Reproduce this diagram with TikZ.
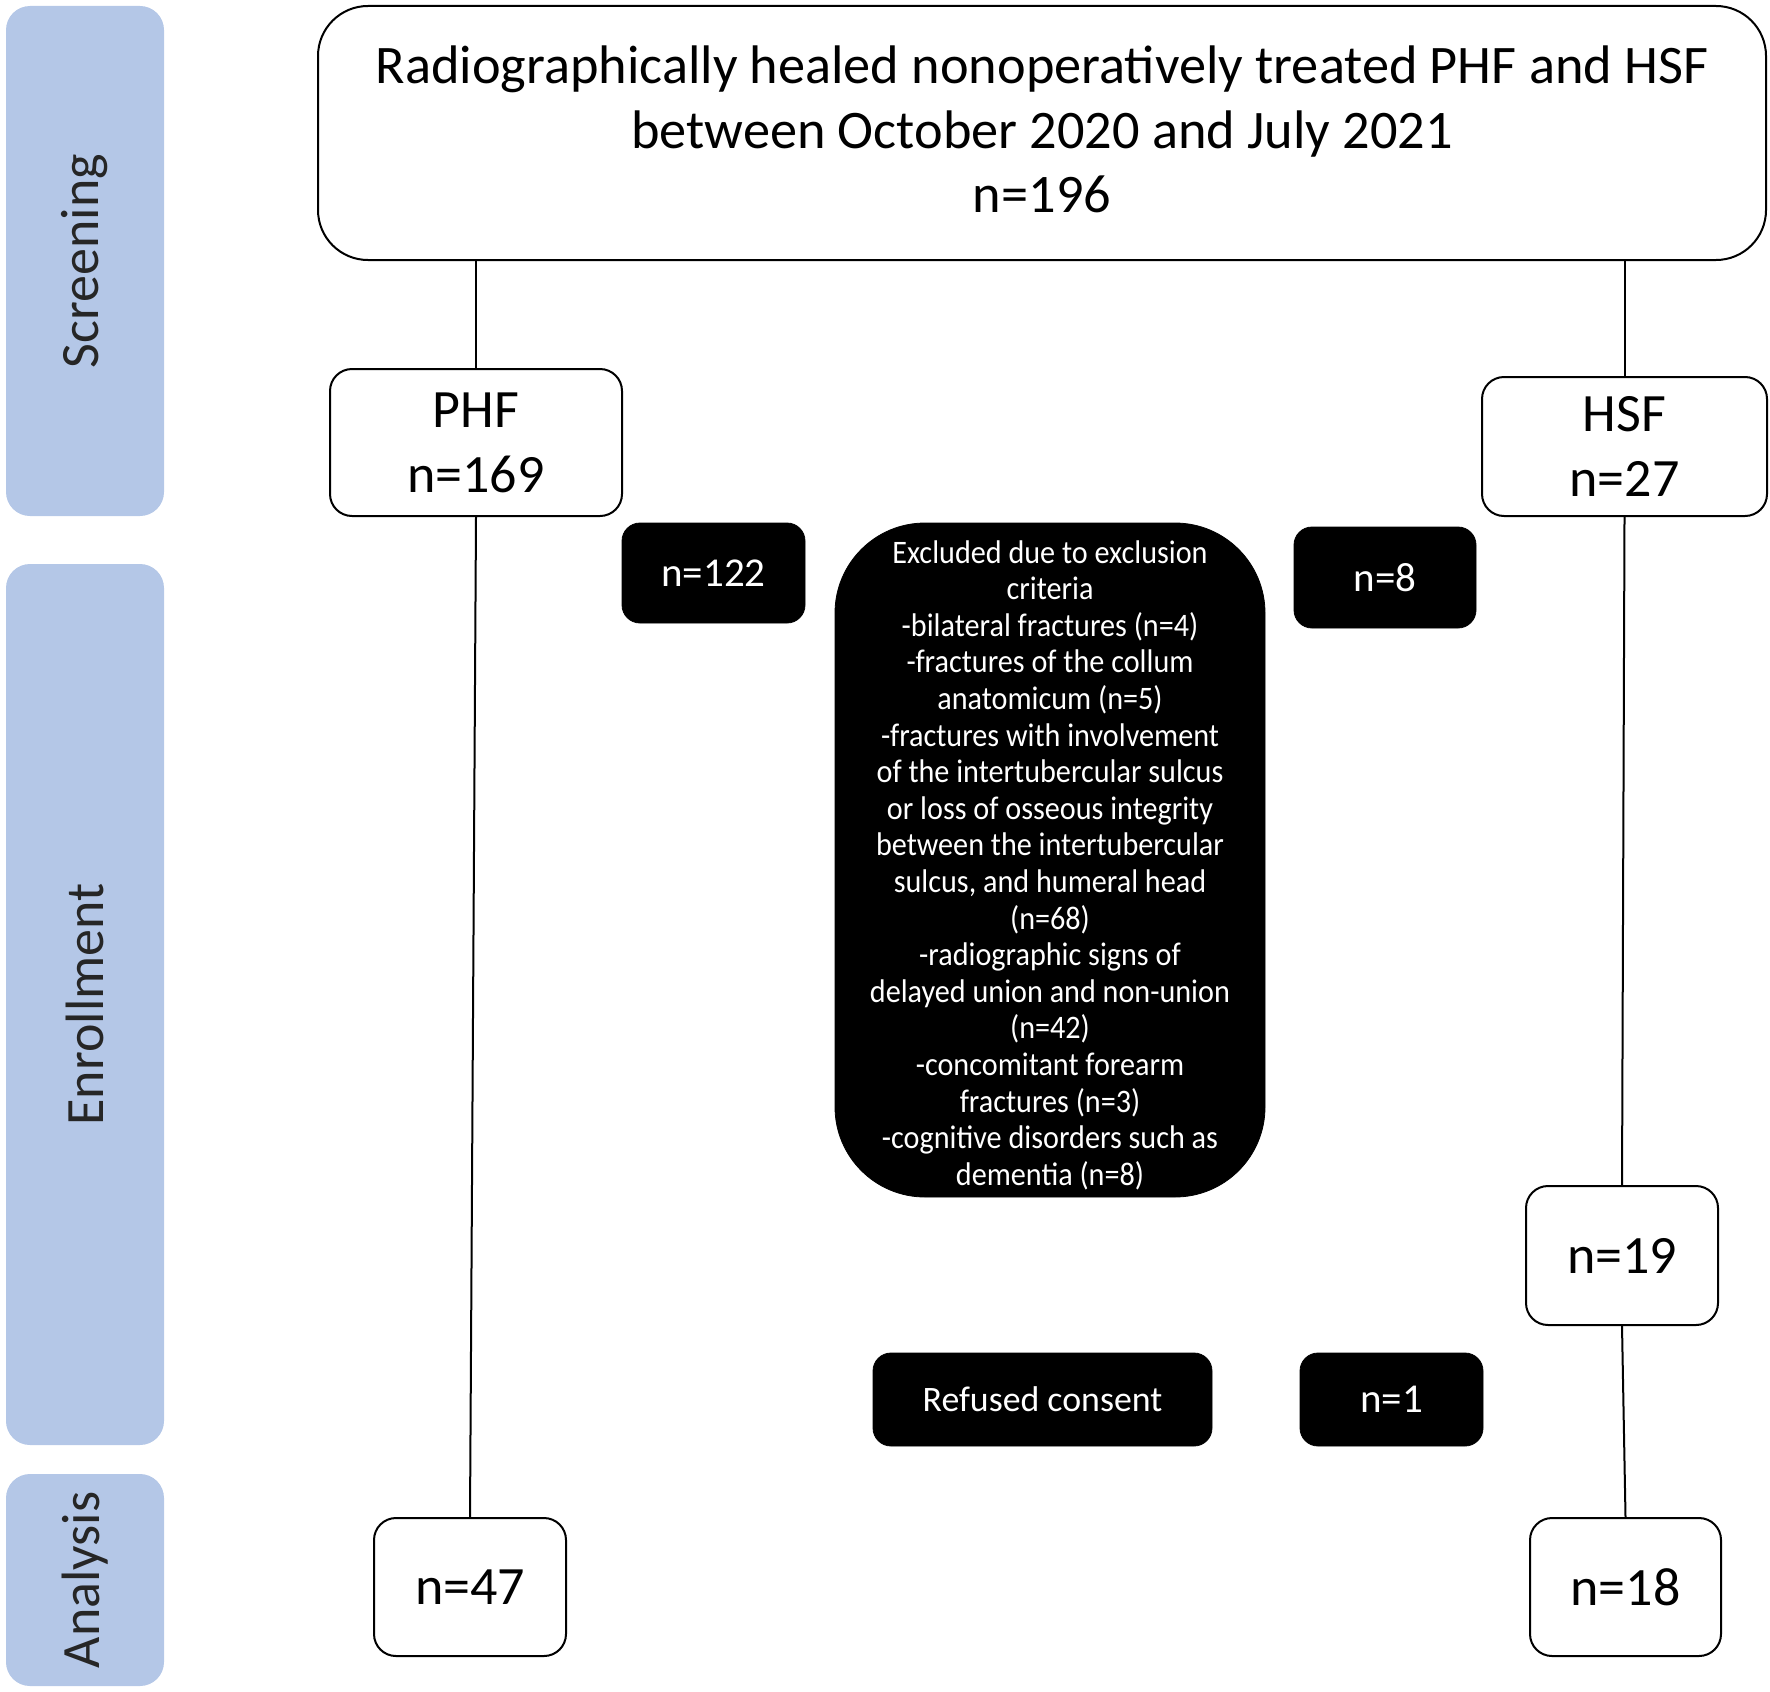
\documentclass[tikz,border=0pt]{standalone}
\usepackage{fontspec}
\setmainfont{Carlito}
\newfontfamily\condfont[FakeStretch=0.92]{Carlito}
\definecolor{barblue}{HTML}{B4C7E7}
\begin{document}
\begin{tikzpicture}[x=0.5pt,y=-0.5pt,
  wbox/.style={draw=black,line width=1pt,fill=white,rounded corners=11pt,align=center,inner sep=0pt,font=\fontsize{27}{32.5}\selectfont},
  kbox/.style={draw=black,fill=black,text=white,rounded corners=9pt,align=center,inner sep=0pt,font=\fontsize{20.5}{24}\selectfont},
  bar/.style={fill=barblue,rounded corners=12pt,inner sep=0pt,minimum width=79pt},
  barlabel/.style={rotate=90,text=black!85,font=\fontsize{27}{32}\selectfont},
  conn/.style={line width=1pt}]
\useasboundingbox (0,0) rectangle (1770,1691);
% phase bars
\node[bar,minimum height=255pt] (bs) at (85,261) {};
\node[bar,minimum height=440.5pt] (be) at (85,1004.5) {};
\node[bar,minimum height=106pt] (ba) at (85,1580) {};
\node[barlabel] (ls) at (bs.center) {Screening};
\node[barlabel] (le) at (be.center) {Enrollment};
\node[barlabel] (la) at (ba.center) {Analysis};
% white boxes
\node[wbox,rounded corners=25pt,minimum width=724pt,minimum height=127pt,font=\fontsize{27.15}{32.2}\selectfont] (top) at (1042,133)
  {\raisebox{-1.1pt}[\height][\depth]{\begin{tabular}{@{}c@{}}Radiographically healed nonoperatively treated PHF and HSF\\between October 2020 and July 2021\\n=196\end{tabular}}};
\node[wbox,minimum width=146pt,minimum height=73.5pt] (phf) at (476,442.5) {PHF\\n=169};
\node[wbox,minimum width=142.5pt,minimum height=69.5pt] (hsf) at (1624.5,446.5) {HSF\\n=27};
\node[wbox,minimum width=96pt,minimum height=69.5pt] (n19) at (1622,1255.5) {n=19};
\node[wbox,minimum width=96pt,minimum height=69pt] (n47) at (470,1587) {n=47};
\node[wbox,minimum width=95.5pt,minimum height=69pt] (n18) at (1625.5,1587) {n=18};
% black boxes
\node[kbox,minimum width=91.5pt,minimum height=50pt] (n122) at (713.5,573) {n=122};
\node[kbox,minimum width=91pt,minimum height=50.5pt] (n8) at (1385,577.5) {n=8};
\node[kbox,rounded corners=45pt,minimum width=215pt,minimum height=337pt,font=\condfont\fontsize{16.4}{18.3}\selectfont] (excl) at (1050,860)
  {\raisebox{-3.4pt}[\height][\depth]{\begin{tabular}{@{}c@{}}Excluded due to exclusion\\criteria\\-bilateral fractures (n=4)\\-fractures of the collum\\anatomicum (n=5)\\-fractures with involvement\\of the intertubercular sulcus\\or loss of osseous integrity\\between the intertubercular\\sulcus, and humeral head\\(n=68)\\-radiographic signs of\\delayed union and non-union\\(n=42)\\-concomitant forearm\\fractures (n=3)\\-cognitive disorders such as\\dementia (n=8)\end{tabular}}};
\node[kbox,minimum width=169.5pt,minimum height=46.5pt,font=\fontsize{17.9}{21}\selectfont] (ref) at (1042.5,1399.5) {Refused consent};
\node[kbox,minimum width=91.5pt,minimum height=46.5pt] (n1) at (1391.5,1399.5) {n=1};
% connectors
\draw[conn] (phf.north |- top.south) -- (phf.north);
\draw[conn] (hsf.north |- top.south) -- (hsf.north);
\draw[conn] (phf.south) -- (n47.north);
\draw[conn] (hsf.south) -- (n19.north);
\draw[conn] (n19.south) -- (n18.north);
\end{tikzpicture}
\end{document}
